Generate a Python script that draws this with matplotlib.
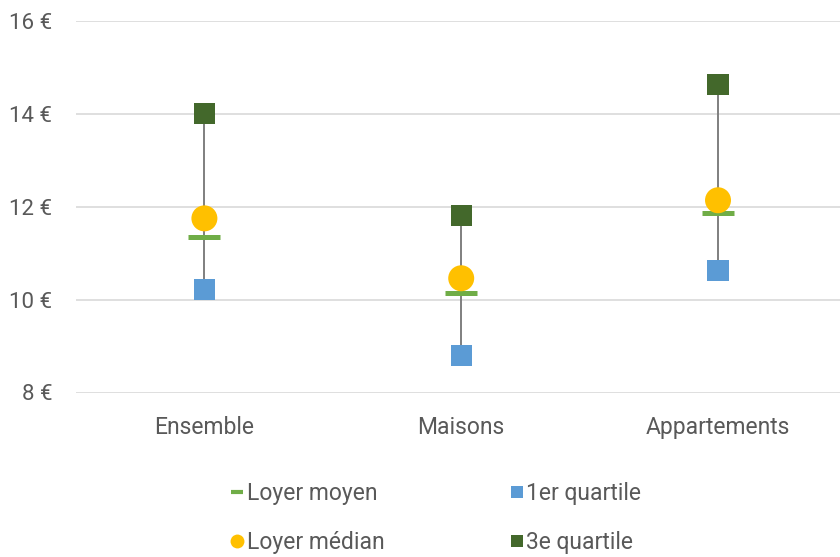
import matplotlib.pyplot as plt
from matplotlib.lines import Line2D

plt.rcParams['font.family'] = ['Roboto', 'DejaVu Sans']

# Loyer au m2 par type de logement
categories = ["Ensemble", "Maisons", "Appartements"]
loyer_moyen = [11.34, 10.14, 11.87]
loyer_median = [11.75, 10.46, 12.14]
quartile_1 = [10.22, 8.80, 10.63]
quartile_3 = [14.00, 11.82, 14.63]
yticks = [8, 10, 12, 14, 16]

GREY_TXT = "#595959"
GREEN_LIGHT = "#70AD47"
GOLD = "#FFC000"
BLUE = "#5B9BD5"
GREEN_DARK = "#43682B"

fig = plt.figure(figsize=(8.4, 5.57), dpi=100)
ax = fig.add_axes([76 / 840, 1 - 392.5 / 557, 764 / 840, (392.5 - 21) / 557])

x = list(range(len(categories)))

# high-low line between quartiles
ax.vlines(x, quartile_1, quartile_3, color="#7F7F7F", lw=1.4, zorder=2)

ax.scatter(x, loyer_moyen, marker="_", s=530, linewidths=3.6, color=GREEN_LIGHT, zorder=3)
ax.scatter(x, quartile_1, marker="s", s=230, color=BLUE, edgecolors="none", zorder=4)
ax.scatter(x, quartile_3, marker="s", s=230, color=GREEN_DARK, edgecolors="none", zorder=4)
ax.scatter(x, loyer_median, marker="o", s=350, color=GOLD, edgecolors="none", zorder=5)

ax.set_xlim(-0.5, 2.475)
ax.set_ylim(8, 16)
ax.set_yticks(yticks)
ax.set_yticklabels([f"{v} €" for v in yticks])
ax.set_xticks(x)
ax.set_xticklabels(categories)
ax.tick_params(length=0, labelsize=16, labelcolor=GREY_TXT)
ax.tick_params(axis="x", labelsize=16.5, pad=17)
ax.tick_params(axis="y", pad=17)
ax.grid(axis="y", color="#D9D9D9", lw=1.2)
ax.set_axisbelow(True)
for s in ax.spines.values():
    s.set_visible(False)

handles = [
    Line2D([], [], marker="_", ls="none", color=GREEN_LIGHT, markersize=9, markeredgewidth=3),
    Line2D([], [], marker="o", ls="none", color=GOLD, markersize=10, markeredgewidth=0),
    Line2D([], [], marker="s", ls="none", color=BLUE, markersize=9, markeredgewidth=0),
    Line2D([], [], marker="s", ls="none", color=GREEN_DARK, markersize=9, markeredgewidth=0),
]
labels = ["Loyer moyen", "Loyer médian", "1er quartile", "3e quartile"]
leg = fig.legend(handles, labels, ncol=2, loc="lower center", bbox_to_anchor=(0.519, 0.0),
                 frameon=False, fontsize=16.5, handlelength=0.55, handletextpad=0.15,
                 columnspacing=5.5, labelspacing=1.1, labelcolor=GREY_TXT,
                 borderaxespad=0.05, borderpad=0.1)

fig.savefig("out.png", dpi=100)
